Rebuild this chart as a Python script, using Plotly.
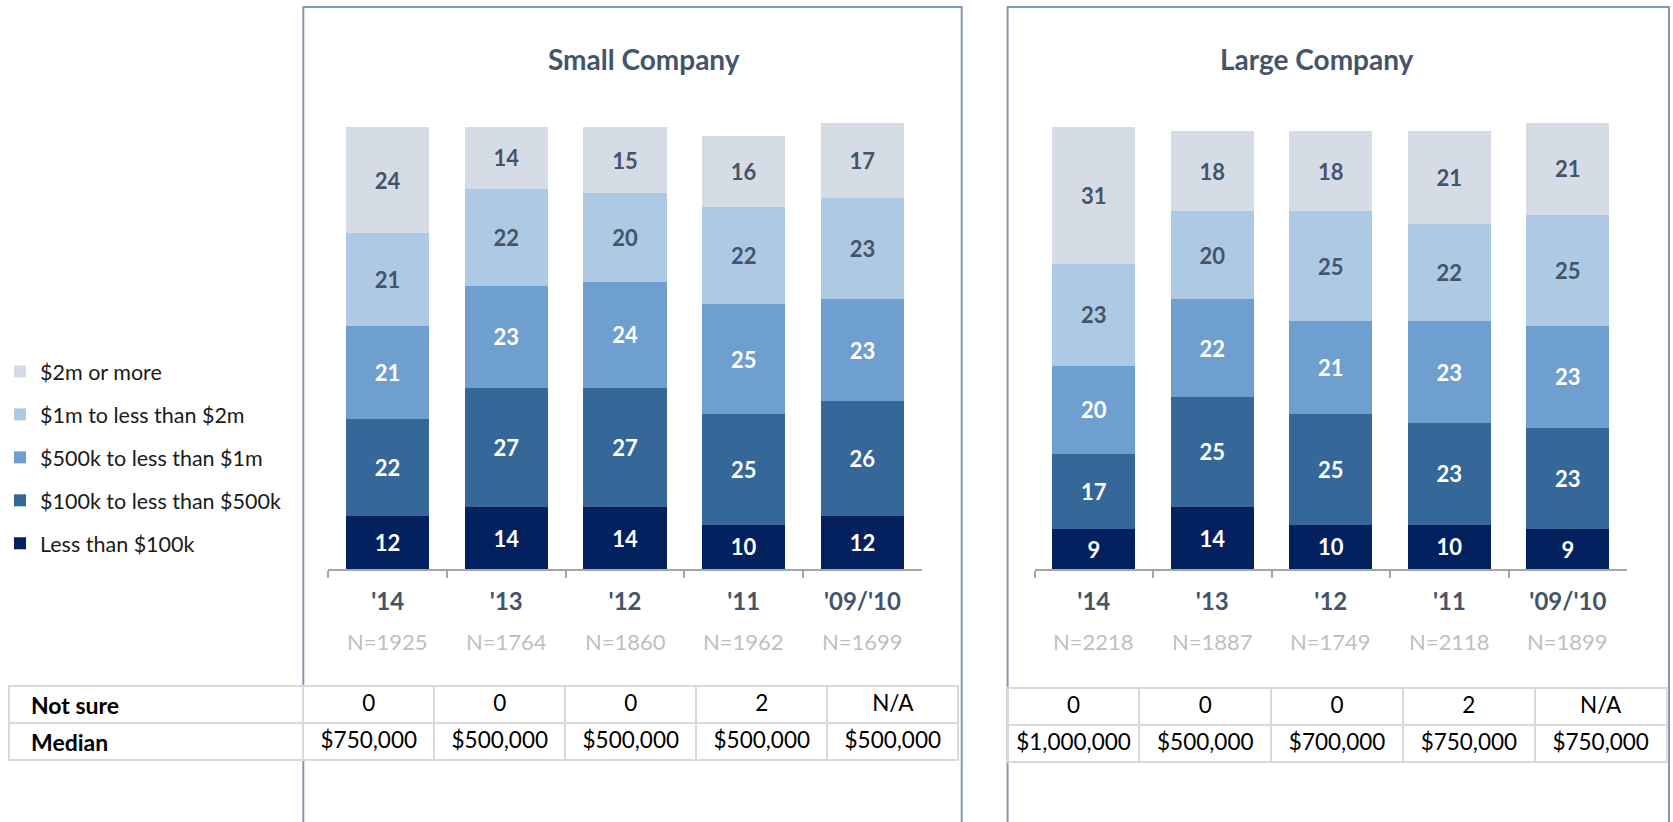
import plotly.graph_objects as go

years = ["'14", "'13", "'12", "'11", "'09/'10"]
n_small = ["N=1925", "N=1764", "N=1860", "N=1962", "N=1699"]
n_large = ["N=2218", "N=1887", "N=1749", "N=2118", "N=1899"]

series_names = ["Less than $100k", "$100k to less than $500k", "$500k to less than $1m",
                "$1m to less than $2m", "$2m or more"]
series_colors = ["#03215e", "#356899", "#6f9fcf", "#adc9e4", "#d6dce5"]
label_colors = ["#ffffff", "#ffffff", "#ffffff", "#44546a", "#44546a"]

small_lt100k = [12, 14, 14, 10, 12]
small_100k_500k = [22, 27, 27, 25, 26]
small_500k_1m = [21, 23, 24, 25, 23]
small_1m_2m = [21, 22, 20, 22, 23]
small_2m_plus = [24, 14, 15, 16, 17]

large_lt100k = [9, 14, 10, 10, 9]
large_100k_500k = [17, 25, 25, 23, 23]
large_500k_1m = [20, 22, 21, 23, 23]
large_1m_2m = [23, 20, 25, 22, 25]
large_2m_plus = [31, 18, 18, 21, 21]

row_labels = ["Not sure", "Median"]
not_sure_small = ["0", "0", "0", "2", "N/A"]
median_small = ["$750,000", "$500,000", "$500,000", "$500,000", "$500,000"]
not_sure_large = ["0", "0", "0", "2", "N/A"]
median_large = ["$1,000,000", "$500,000", "$700,000", "$750,000", "$750,000"]

small_series = [small_lt100k, small_100k_500k, small_500k_1m, small_1m_2m, small_2m_plus]
large_series = [large_lt100k, large_100k_500k, large_500k_1m, large_1m_2m, large_2m_plus]

W, H = 1673, 822
FONT = "Lato"
DARK = "#44546a"


def px(x):
    return x / W


def py(y):
    return 1 - y / H


fig = go.Figure()

for i, name in enumerate(series_names):
    fig.add_trace(go.Bar(
        x=years, y=small_series[i], name=name, xaxis="x", yaxis="y",
        marker=dict(color=series_colors[i], line=dict(width=0)),
        text=small_series[i], texttemplate="<b>%{text}</b>",
        textposition="inside", insidetextanchor="middle", textangle=0,
        insidetextfont=dict(family=FONT, size=22, color=label_colors[i]),
        legendgroup=name, legendrank=(len(series_names) - i) * 10,
        showlegend=True, hoverinfo="skip",
    ))
for i, name in enumerate(series_names):
    fig.add_trace(go.Bar(
        x=years, y=large_series[i], name=name, xaxis="x2", yaxis="y2",
        marker=dict(color=series_colors[i], line=dict(width=0)),
        text=large_series[i], texttemplate="<b>%{text}</b>",
        textposition="inside", insidetextanchor="middle", textangle=0,
        insidetextfont=dict(family=FONT, size=22, color=label_colors[i]),
        legendgroup=name, legendrank=(len(series_names) - i) * 10,
        showlegend=False, hoverinfo="skip",
    ))

# tables
cell_style = dict(line=dict(color="#d9d9d9", width=2), fill=dict(color="white"),
                  font=dict(family=FONT, size=22.5, color="#000000"), height=37, align="center")
fig.add_trace(go.Table(
    domain=dict(x=[px(5), px(300)], y=[py(762), py(686)]),
    header=dict(values=[""], **cell_style),
    cells=dict(values=[[""]], **cell_style),
))
fig.add_trace(go.Table(
    domain=dict(x=[px(300), px(957)], y=[py(762), py(686)]),
    header=dict(values=not_sure_small, **cell_style),
    cells=dict(values=[[m] for m in median_small], **cell_style),
))
fig.add_trace(go.Table(
    domain=dict(x=[px(1006), px(1667)], y=[py(765), py(688)]),
    header=dict(values=not_sure_large, **cell_style),
    cells=dict(values=[[m] for m in median_large], **cell_style),
))

axis_common = dict(
    type="category", showline=True, linecolor="#a6a6a6", linewidth=2,
    ticks="outside", tickson="boundaries", ticklen=7, tickcolor="#a6a6a6", tickwidth=2,
    tickfont=dict(family=FONT, size=24, color=DARK), showgrid=False, zeroline=False,
    ticklabelstandoff=10,
)
yaxis_common = dict(range=[0, 110], visible=False, showgrid=False, zeroline=False)

y_bottom = py(569)
y_top = py(569 - 442 * 1.1)

fig.update_layout(
    width=W, height=H, margin=dict(l=0, r=0, t=0, b=0),
    paper_bgcolor="white", plot_bgcolor="rgba(0,0,0,0)",
    barmode="stack", bargap=0.30,
    font=dict(family=FONT),
    xaxis=dict(domain=[px(325), px(920)], anchor="y",
               tickvals=years, ticktext=["<b>" + y + "</b>" for y in years], **axis_common),
    yaxis=dict(domain=[y_bottom, y_top], anchor="x", **yaxis_common),
    xaxis2=dict(domain=[px(1033), px(1627)], anchor="y2",
                tickvals=years, ticktext=["<b>" + y + "</b>" for y in years], **axis_common),
    yaxis2=dict(domain=[y_bottom, y_top], anchor="x2", **yaxis_common),
    legend=dict(x=px(-4), y=py(351), xanchor="left", yanchor="top",
                traceorder="grouped", tracegroupgap=12,
                font=dict(family=FONT, size=21.5, color="#1a1a1a"),
                bgcolor="rgba(0,0,0,0)", itemclick=False, itemdoubleclick=False),
    showlegend=True,
)

annotations = [
    dict(text="<b>Small Company</b>", x=px(642), y=py(59), xref="paper", yref="paper",
         xanchor="center", yanchor="middle", showarrow=False,
         font=dict(family=FONT, size=28, color=DARK)),
    dict(text="<b>Large Company</b>", x=px(1316), y=py(59), xref="paper", yref="paper",
         xanchor="center", yanchor="middle", showarrow=False,
         font=dict(family=FONT, size=28, color=DARK)),
]
for lbl, yc in zip(row_labels, [705, 742]):
    annotations.append(dict(text="<b>" + lbl + "</b>", x=px(25), y=py(yc), xref="paper", yref="paper",
                            xanchor="left", yanchor="middle", showarrow=False,
                            font=dict(family=FONT, size=23, color="#000000")))
for yr, n in zip(years, n_small):
    annotations.append(dict(text=n, x=yr, xref="x", y=py(641), yref="paper", showarrow=False,
                            xanchor="center", yanchor="middle",
                            font=dict(family=FONT, size=22, color="#bfbfbf")))
for yr, n in zip(years, n_large):
    annotations.append(dict(text=n, x=yr, xref="x2", y=py(641), yref="paper", showarrow=False,
                            xanchor="center", yanchor="middle",
                            font=dict(family=FONT, size=22, color="#bfbfbf")))
fig.update_layout(annotations=annotations)

border = dict(color="#8497b0", width=2)
shapes = []
for x0, x1 in [(300, 960), (1006, 1669)]:
    shapes.append(dict(type="path", xref="paper", yref="paper",
                       path=f"M {px(x0)} 0 L {px(x0)} {py(7)} L {px(x1)} {py(7)} L {px(x1)} 0",
                       line=border, layer="below"))
fig.update_layout(shapes=shapes)

fig.write_html("out.html", config={"displayModeBar": False},
               post_script="document.body.style.margin='0';document.body.style.overflow='hidden';")
